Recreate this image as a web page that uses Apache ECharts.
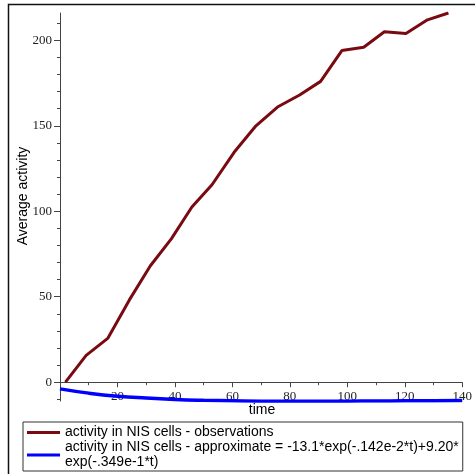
<!DOCTYPE html>
<html>
<head>
<meta charset="utf-8">
<script src="https://cdn.jsdelivr.net/npm/echarts@6/dist/echarts.min.js"></script>
<style>
  html, body { margin: 0; padding: 0; background: #fff; }
  #chart { width: 475px; height: 474px; }
</style>
</head>
<body>
<div id="chart"></div>
<script>
// observed activity
const obsTime = [1.9, 9.1, 16.6, 24.1, 31.4, 38.8, 45.9, 52.9, 60.6, 68.2, 75.7, 83.4, 90.7, 98.1, 105.7, 112.9, 120.4, 127.9, 135.2];
const obsActivity = [0, 15.7, 25.6, 48, 68, 84, 102.5, 115.5, 134.5, 150, 161, 168, 176, 194, 196, 205, 204, 212, 216];

// fitted curve
const fitTime = [0, 10, 20, 30, 40, 50, 60, 70, 80, 90, 100, 110, 120, 130, 140];
const fitActivity = [-3.9, -6.4, -8.2, -9.3, -10.1, -10.6, -10.9, -11.1, -11.1, -11.1, -11.1, -11.0, -10.9, -10.8, -10.7];

const yLabelTicks = [0, 50, 100, 150, 200];
const ySmallTicks = [-10, 0, 10, 20, 30, 40, 50, 60, 70, 80, 90, 100, 110, 120, 130, 140, 150, 160, 170, 180, 190, 200, 210];

const obsName = 'activity in NIS cells - observations';
const fitName = 'activity in NIS cells - approximate = -13.1*exp(-.142e-2*t)+9.20*exp(-.349e-1*t)';

const chart = echarts.init(document.getElementById('chart'));

const tickFont = { fontFamily: 'Liberation Serif', fontSize: 13, color: '#222' };
const axisGray = '#444';

chart.setOption({
  animation: false,
  grid: { left: 60, top: 13, width: 404, height: 388, containLabel: false },
  xAxis: {
    type: 'value',
    min: 0, max: 140, interval: 20,
    splitLine: { show: false },
    axisLine: { onZero: true, lineStyle: { color: axisGray, width: 1 } },
    axisTick: { length: 5, lineStyle: { color: axisGray } },
    minorTick: { show: true, splitNumber: 2, length: 3, lineStyle: { color: axisGray } },
    axisLabel: Object.assign({ margin: -11, formatter: v => (v === 0 ? '' : v) }, tickFont)
  },
  yAxis: [{
    type: 'value', position: 'left',
    min: -11, max: 216,
    splitLine: { show: false },
    axisLine: { onZero: false, lineStyle: { color: axisGray, width: 1 } },
    axisTick: { customValues: ySmallTicks, length: 3, lineStyle: { color: axisGray } },
    axisLabel: { show: false }
  }, {
    type: 'value', position: 'left',
    min: -11, max: 216,
    splitLine: { show: false },
    axisLine: { show: false, onZero: false },
    axisTick: { customValues: yLabelTicks, length: 6, lineStyle: { color: axisGray } },
    axisLabel: Object.assign({ customValues: yLabelTicks, margin: 8 }, tickFont)
  }],
  legend: {
    orient: 'vertical',
    left: 23, top: 422,
    height: 120,
    padding: [3, 4, 1, 4],
    itemGap: 0,
    itemWidth: 33,
    itemHeight: 3,
    icon: 'rect',
    backgroundColor: '#fff',
    borderColor: '#333',
    borderWidth: 1,
    borderRadius: 0,
    data: [obsName, fitName],
    formatter: name => name.replace('+9.20*', '+9.20*\n'),
    textStyle: { fontFamily: 'Liberation Sans', fontSize: 14, color: '#000', lineHeight: 15 }
  },
  graphic: [{
    type: 'text',
    x: 23, y: 196,
    rotation: Math.PI / 2,
    style: { text: 'Average activity', fontFamily: 'Liberation Sans', fontSize: 14, fill: '#000', align: 'center', verticalAlign: 'middle' }
  }, {
    type: 'text',
    x: 262, y: 410,
    style: { text: 'time', fontFamily: 'Liberation Sans', fontSize: 14, fill: '#000', align: 'center', verticalAlign: 'middle' }
  }, {
    type: 'polyline',
    shape: { points: [[8.5, 480], [8.5, 4.5], [480, 4.5]] },
    style: { stroke: '#111', lineWidth: 1.5, fill: null }
  }],
  series: [{
    name: obsName,
    type: 'line',
    yAxisIndex: 0,
    data: obsTime.map((t, i) => [t, obsActivity[i]]),
    showSymbol: false,
    itemStyle: { color: '#7a0a12' },
    lineStyle: { color: '#7a0a12', width: 3 }
  }, {
    name: fitName,
    type: 'line',
    yAxisIndex: 0,
    data: fitTime.map((t, i) => [t, fitActivity[i]]),
    smooth: true,
    showSymbol: false,
    itemStyle: { color: '#0000ff' },
    lineStyle: { color: '#0000ff', width: 3.5 }
  }]
});
</script>
</body>
</html>
